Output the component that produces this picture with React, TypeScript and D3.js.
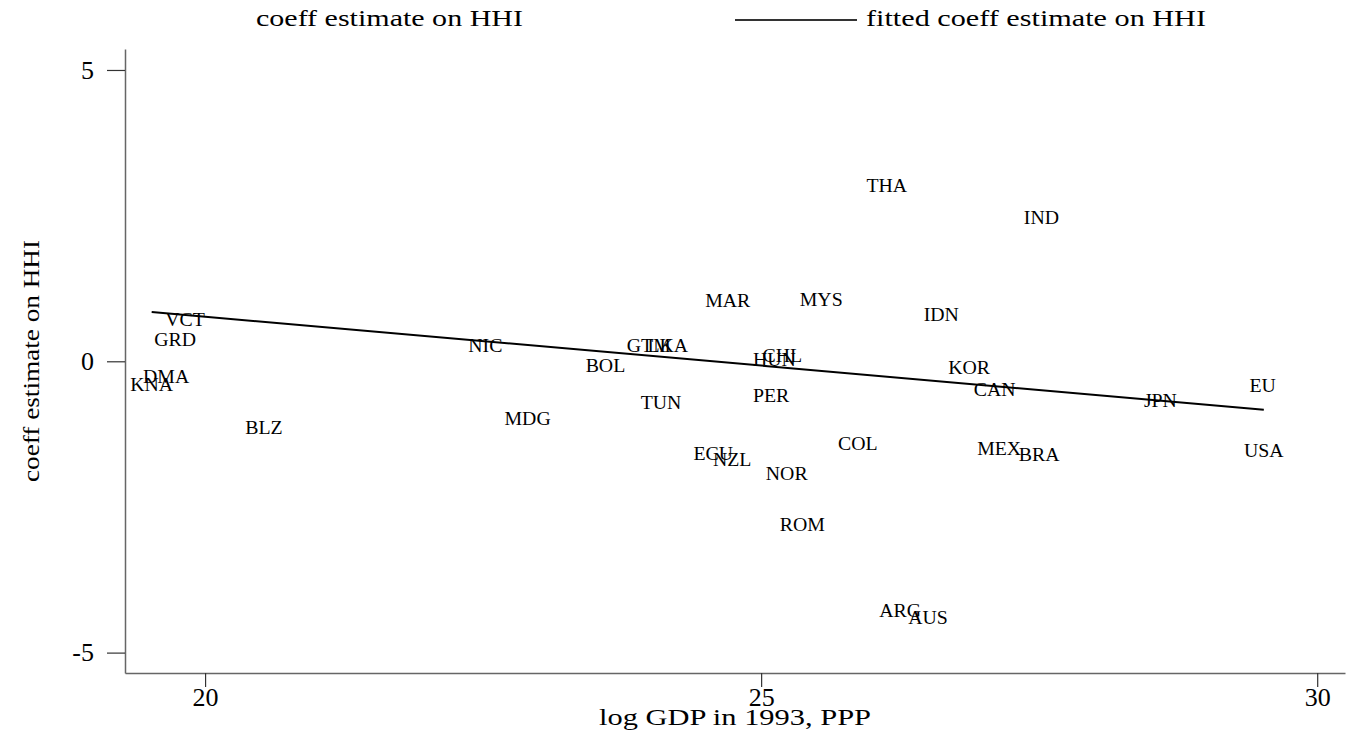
import React, { useEffect, useRef } from "react";
import * as d3 from "d3";

// country codes, log GDP (x) and coeff estimate on HHI (y)
const countries = [
  "KNA", "DMA", "GRD", "VCT", "BLZ", "NIC", "MDG", "BOL", "GTM", "TUN", "LKA",
  "ECU", "MAR", "NZL", "PER", "HUN", "CHL", "NOR", "ROM", "MYS", "COL", "THA",
  "ARG", "AUS", "IDN", "KOR", "CAN", "MEX", "BRA", "IND", "JPN", "EU", "USA",
];
const logGdp = [
  19.52, 19.65, 19.73, 19.82, 20.53, 22.52, 22.9, 23.6, 23.99, 24.1, 24.16,
  24.57, 24.7, 24.74, 25.09, 25.12, 25.19, 25.23, 25.37, 25.54, 25.87, 26.13,
  26.25, 26.5, 26.62, 26.87, 27.1, 27.14, 27.5, 27.52, 28.59, 29.51, 29.52,
];
const coeffHHI = [
  -0.4, -0.27, 0.37, 0.72, -1.14, 0.26, -0.99, -0.07, 0.26, -0.72, 0.27,
  -1.59, 1.03, -1.69, -0.6, 0.03, 0.1, -1.93, -2.8, 1.06, -1.41, 3.01,
  -4.29, -4.41, 0.8, -0.11, -0.49, -1.51, -1.61, 2.46, -0.67, -0.42, -1.53,
];
const xTicks = [20, 25, 30];
const yTicks = [-5, 0, 5];
// fitted line: coeff = a + b * logGdp
const fitIntercept = 4.126;
const fitSlope = -0.168;

const FONT = '"Liberation Serif", "Times New Roman", serif';

const App = () => {
  const ref = useRef<SVGSVGElement>(null);

  useEffect(() => {
    const svg = d3.select(ref.current);
    svg.selectAll("*").remove();

    const left = 125;
    const right = 1345;
    const top = 49;
    const bottom = 673;

    const x = d3.scaleLinear().domain([19.28, 30.25]).range([left, right]);
    const y = d3.scaleLinear().domain([-5.35, 5.36]).range([bottom, top]);

    const styleAxis = (g: d3.Selection<SVGGElement, unknown, null, undefined>) => {
      g.attr("font-family", FONT).attr("font-size", 26);
      g.select(".domain").attr("stroke", "#666").attr("stroke-width", 1.5);
      g.selectAll(".tick line").attr("stroke", "#333").attr("stroke-width", 1.2);
      g.selectAll(".tick text")
        .attr("font-family", FONT)
        .attr("font-size", 26)
        .attr("fill", "#000");
    };

    // y axis
    svg
      .append("g")
      .attr("transform", `translate(${left},0)`)
      .call(
        d3
          .axisLeft(y)
          .tickValues(yTicks)
          .tickSize(18)
          .tickSizeOuter(0)
          .tickPadding(13)
          .tickFormat((d) => String(d))
      )
      .call(styleAxis);

    // x axis
    svg
      .append("g")
      .attr("transform", `translate(0,${bottom})`)
      .call(
        d3
          .axisBottom(x)
          .tickValues(xTicks)
          .tickSize(14)
          .tickSizeOuter(0)
          .tickPadding(1)
          .tickFormat((d) => String(d))
      )
      .call(styleAxis);

    // axis titles
    svg
      .append("text")
      .attr("x", (left + right) / 2)
      .attr("y", 725)
      .attr("text-anchor", "middle")
      .attr("font-family", FONT)
      .attr("font-size", 23)
      .attr("textLength", 272)
      .attr("lengthAdjust", "spacingAndGlyphs")
      .text("log GDP in 1993, PPP");

    svg
      .append("text")
      .attr("transform", `translate(39,${(top + bottom) / 2}) rotate(-90)`)
      .attr("text-anchor", "middle")
      .attr("font-family", FONT)
      .attr("font-size", 24)
      .attr("textLength", 242)
      .attr("lengthAdjust", "spacingAndGlyphs")
      .text("coeff estimate on HHI");

    // fitted line
    const xExt = d3.extent(logGdp) as [number, number];
    const line = d3
      .line<number>()
      .x((d) => x(d))
      .y((d) => y(fitIntercept + fitSlope * d));
    svg
      .append("path")
      .attr("d", line(xExt))
      .attr("fill", "none")
      .attr("stroke", "#000")
      .attr("stroke-width", 2);

    // country labels
    svg
      .append("g")
      .selectAll("text")
      .data(countries)
      .enter()
      .append("text")
      .attr("transform", (d, i) => `translate(${x(logGdp[i])},${y(coeffHHI[i])}) scale(1.1,1)`)
      .attr("text-anchor", "middle")
      .attr("dominant-baseline", "central")
      .attr("font-family", FONT)
      .attr("font-size", 18)
      .text((d) => d);

    // legend
    svg
      .append("text")
      .attr("x", 256)
      .attr("y", 26)
      .attr("font-family", FONT)
      .attr("font-size", 23)
      .attr("textLength", 267)
      .attr("lengthAdjust", "spacingAndGlyphs")
      .text("coeff estimate on HHI");
    svg
      .append("line")
      .attr("x1", 735)
      .attr("x2", 857)
      .attr("y1", 20)
      .attr("y2", 20)
      .attr("stroke", "#333")
      .attr("stroke-width", 2);
    svg
      .append("text")
      .attr("x", 866)
      .attr("y", 26)
      .attr("font-family", FONT)
      .attr("font-size", 23)
      .attr("textLength", 340)
      .attr("lengthAdjust", "spacingAndGlyphs")
      .text("fitted coeff estimate on HHI");
  });

  return (
    <svg
      ref={ref}
      width={1348}
      height={742}
      style={{ position: "absolute", left: 0, top: 0, background: "#fff" }}
    />
  );
};

export default App;
